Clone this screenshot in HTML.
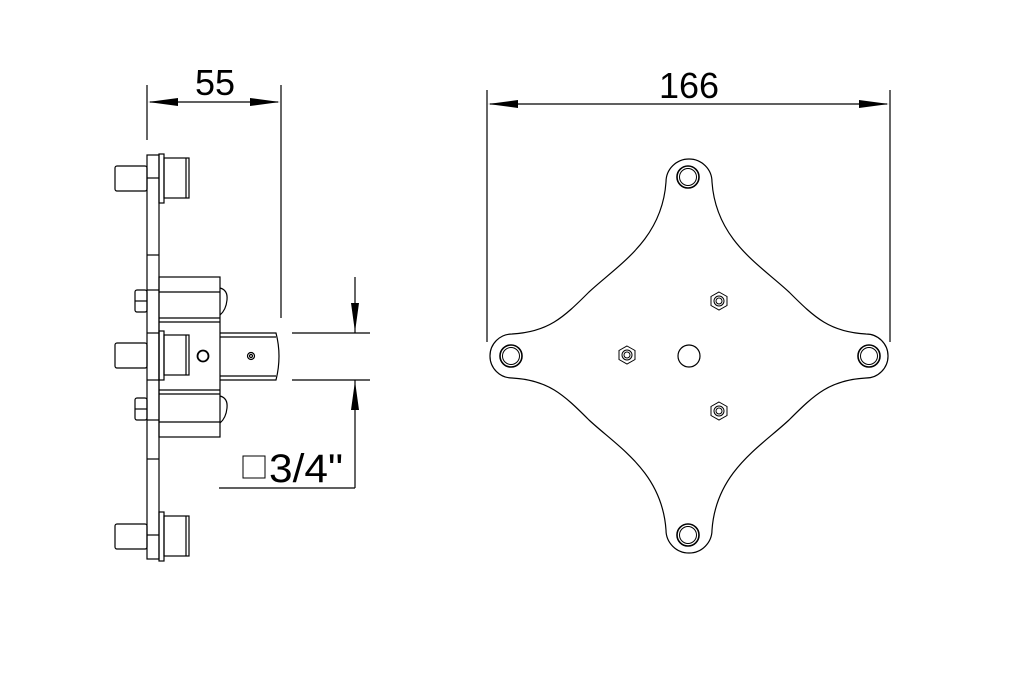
<!DOCTYPE html>
<html><head><style>
html,body{margin:0;padding:0;background:#fff;}
svg{display:block;}
text{font-family:"Liberation Sans",sans-serif;fill:#000;}
</style></head><body>
<svg width="1024" height="673" viewBox="0 0 1024 673" xmlns="http://www.w3.org/2000/svg">
<g fill="none" stroke="#000" stroke-width="1.2">
<rect x="147" y="155" width="12" height="404"/>
<line x1="147" y1="178" x2="159" y2="178"/>
<line x1="147" y1="255" x2="159" y2="255"/>
<line x1="147" y1="290" x2="159" y2="290"/>
<line x1="147" y1="333" x2="159" y2="333"/>
<line x1="147" y1="380" x2="159" y2="380"/>
<line x1="147" y1="420" x2="159" y2="420"/>
<line x1="147" y1="459" x2="159" y2="459"/>
<line x1="147" y1="535" x2="159" y2="535"/>
<g id="stud">
<rect x="159" y="154" width="5" height="49"/>
<rect x="164" y="158" width="25" height="40"/>
<line x1="186" y1="158" x2="186" y2="198"/>
<rect x="115" y="166" width="32" height="25" rx="2"/>
</g>
<use href="#stud" transform="translate(0,177)"/>
<use href="#stud" transform="translate(0,358)"/>
<rect x="159" y="277" width="61" height="160"/>
<line x1="159" y1="292" x2="220" y2="292"/>
<line x1="159" y1="318" x2="220" y2="318"/>
<line x1="159" y1="322" x2="220" y2="322"/>
<line x1="159" y1="390" x2="220" y2="390"/>
<line x1="159" y1="394" x2="220" y2="394"/>
<line x1="159" y1="422" x2="220" y2="422"/>
<path d="M220 288 Q228 290 227 300 Q226 310 220 315"/>
<path d="M220 396 Q228 398 227 408 Q226 418 220 423"/>
<rect x="135" y="290" width="12" height="22" rx="2"/>
<line x1="135" y1="301" x2="147" y2="301"/>
<rect x="135" y="398" width="12" height="22" rx="2"/>
<line x1="135" y1="409" x2="147" y2="409"/>
<circle cx="203" cy="356" r="5.5" stroke-width="1.8"/>
<path d="M220 333 L276 333 Q282 356 276 380 L220 380"/>
<line x1="220" y1="337" x2="276" y2="337"/>
<line x1="220" y1="376" x2="276" y2="376"/>
<circle cx="251" cy="356" r="3.5"/>
<circle cx="251" cy="356" r="1.5"/>
<line x1="147" y1="85" x2="147" y2="140"/>
<line x1="281" y1="85" x2="281" y2="318"/>
<line x1="150" y1="102" x2="278" y2="102"/>
<line x1="292" y1="333" x2="370" y2="333"/>
<line x1="292" y1="380" x2="370" y2="380"/>
<line x1="355" y1="277" x2="355" y2="333"/>
<line x1="355" y1="380" x2="355" y2="488"/>
<line x1="219" y1="488" x2="355" y2="488"/>
<rect x="243" y="456" width="22" height="22" stroke-width="1"/>
<line x1="487" y1="90" x2="487" y2="342"/>
<line x1="890" y1="90" x2="890" y2="342"/>
<line x1="490" y1="104" x2="887" y2="104"/>
<path d="M666 182 A22 22 0 1 1 712 182 C716 240 760 265 789 292 C815 318 830 332 866 334 A22 22 0 1 1 866 378 C830 380 815 394 789 420 C760 447 716 472 712 530 A22 22 0 1 1 666 530 C662 472 618 447 589 420 C563 394 548 380 512 378 A22 22 0 1 1 512 334 C548 332 563 318 589 292 C618 265 662 240 666 182 Z"/>
<g stroke-width="1.6">
<circle cx="688" cy="177" r="11"/><circle cx="688" cy="177" r="8.5" stroke-width="1"/>
<circle cx="688" cy="535" r="11"/><circle cx="688" cy="535" r="8.5" stroke-width="1"/>
<circle cx="511" cy="356" r="11"/><circle cx="511" cy="356" r="8.5" stroke-width="1"/>
<circle cx="869" cy="356" r="11"/><circle cx="869" cy="356" r="8.5" stroke-width="1"/>
</g>
<circle cx="689" cy="356" r="11"/>
<g id="nut" stroke-width="1">
<polygon points="627,346 635,350.5 635,359.5 627,364 619,359.5 619,350.5"/>
<circle cx="627" cy="355" r="5"/><circle cx="627" cy="355" r="3"/>
</g>
<use href="#nut" transform="translate(92,-54)"/>
<use href="#nut" transform="translate(92,56)"/>
</g>
<g fill="#000">
<polygon points="148,102 178,98 178,106"/>
<polygon points="280,102 250,98 250,106"/>
<polygon points="488,104 518,100 518,108"/>
<polygon points="889,104 859,100 859,108"/>
<polygon points="355,332 351,303 359,303"/>
<polygon points="355,381 351,410 359,410"/>
</g>
<text x="215" y="95" font-size="36" text-anchor="middle">55</text>
<text x="689" y="98" font-size="36" text-anchor="middle">166</text>
<text x="269" y="482" font-size="40" textLength="74" lengthAdjust="spacingAndGlyphs">3/4"</text>
</svg>
</body></html>
